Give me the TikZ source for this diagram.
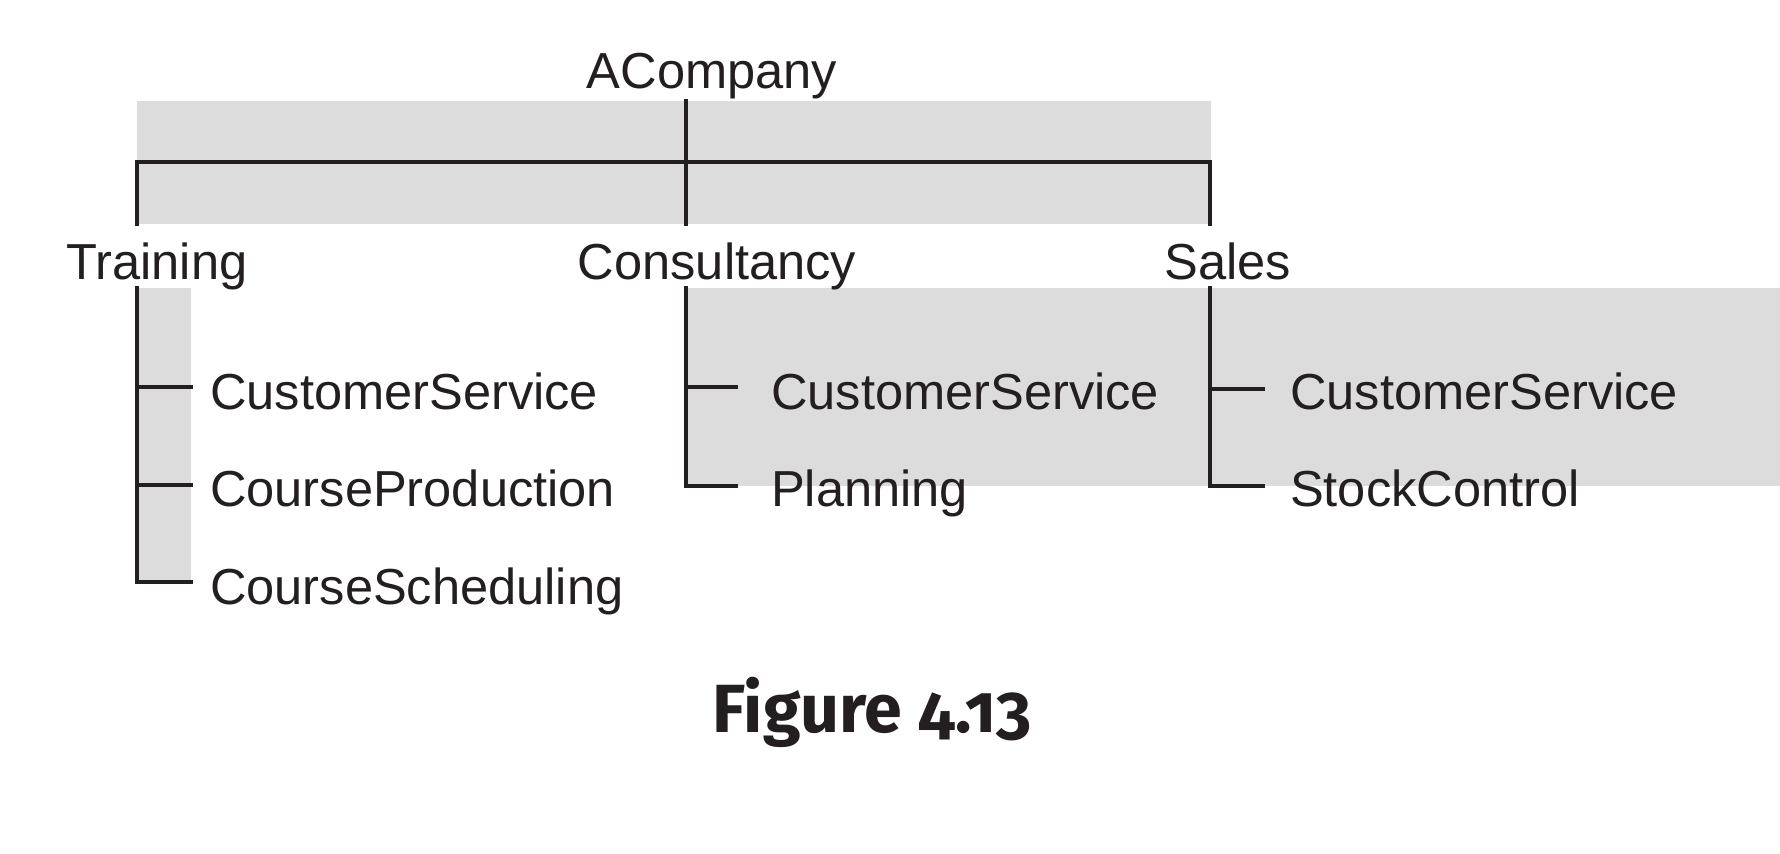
\documentclass[tikz,border=0pt]{standalone}
\usepackage{fontspec}
\setmainfont{Liberation Sans}
\newfontfamily\capfont[Numbers=OldStyle]{Fira Sans}
\usepackage{xcolor}
\definecolor{bandgray}{HTML}{DCDCDC}
\definecolor{ink}{HTML}{231F20}
\def\width{1780}
\def\hauteur{854}

\begin{document}
\begin{tikzpicture}[x=0.2mm, y=-0.2mm, line width=2.3pt,
	tree/.style={draw=ink, line cap=rect},
	lbl/.style={inner sep=0, text=ink, font=\fontsize{28.8}{34}\selectfont},
	unit/.style={lbl, anchor=base},
	sub/.style={lbl, anchor=base west}]
	\useasboundingbox (0,0) rectangle (\width,\hauteur);
	%\draw[step=100, line width=0.1mm, black!20!white] (0,0) grid (\width,\hauteur);
	% grey bands
	\fill[bandgray] (137,101) rectangle (1211,224);
	\fill[bandgray] (137,288) rectangle (191,582);
	\fill[bandgray] (686,288) rectangle (\width,486);
	% company level
	\node[unit] (comp) at (712,88) {ACompany};
	\coordinate (ctop) at (686,101);
	\coordinate (cmid) at (686,162);
	\coordinate (tmid) at (137,162);
	\coordinate (smid) at (1210,162);
	\coordinate (tbot) at (137,224);
	\coordinate (cbot) at (686,224);
	\coordinate (sbot) at (1210,224);
	\draw[tree] (ctop) -- (cbot);
	\draw[tree] (tbot) -- (tmid) -- (smid) -- (sbot);
	% divisions
	\node[unit] (train) at (157,279) {Training};
	\node[unit] (consult) at (717,279) {Consultancy};
	\node[unit] (sales) at (1228,279) {Sales};
	% Training
	\node[sub] (t1) at (208,409) {CustomerService};
	\node[sub] (t2) at (208,506) {CourseProduction};
	\node[sub] (t3) at (208,604) {CourseScheduling};
	\coordinate (tv) at (137,288);
	\coordinate (tv1) at (137,387);
	\coordinate (tv2) at (137,485);
	\coordinate (tv3) at (137,582);
	\draw[tree] (tv) -- (tv3) -- ++(54,0);
	\draw[tree] (tv1) -- ++(54,0);
	\draw[tree] (tv2) -- ++(54,0);
	% Consultancy
	\node[sub] (c1) at (769,409) {CustomerService};
	\node[sub] (c2) at (769,506) {Planning};
	\coordinate (cv) at (686,288);
	\coordinate (cv1) at (686,387);
	\coordinate (cv2) at (686,486);
	\draw[tree] (cv) -- (cv2) -- ++(50,0);
	\draw[tree] (cv1) -- ++(50,0);
	% Sales
	\node[sub] (s1) at (1288,409) {CustomerService};
	\node[sub] (s2) at (1288,506) {StockControl};
	\coordinate (sv) at (1210,288);
	\coordinate (sv1) at (1210,389);
	\coordinate (sv2) at (1210,486);
	\draw[tree] (sv) -- (sv2) -- ++(53,0);
	\draw[tree] (sv1) -- ++(53,0);
	% caption
	\node[anchor=base, inner sep=0, text=ink, font=\capfont\bfseries\fontsize{38.8}{42}\selectfont] (fig) at (872,732) {Figure 4.13};
\end{tikzpicture}
\end{document}
